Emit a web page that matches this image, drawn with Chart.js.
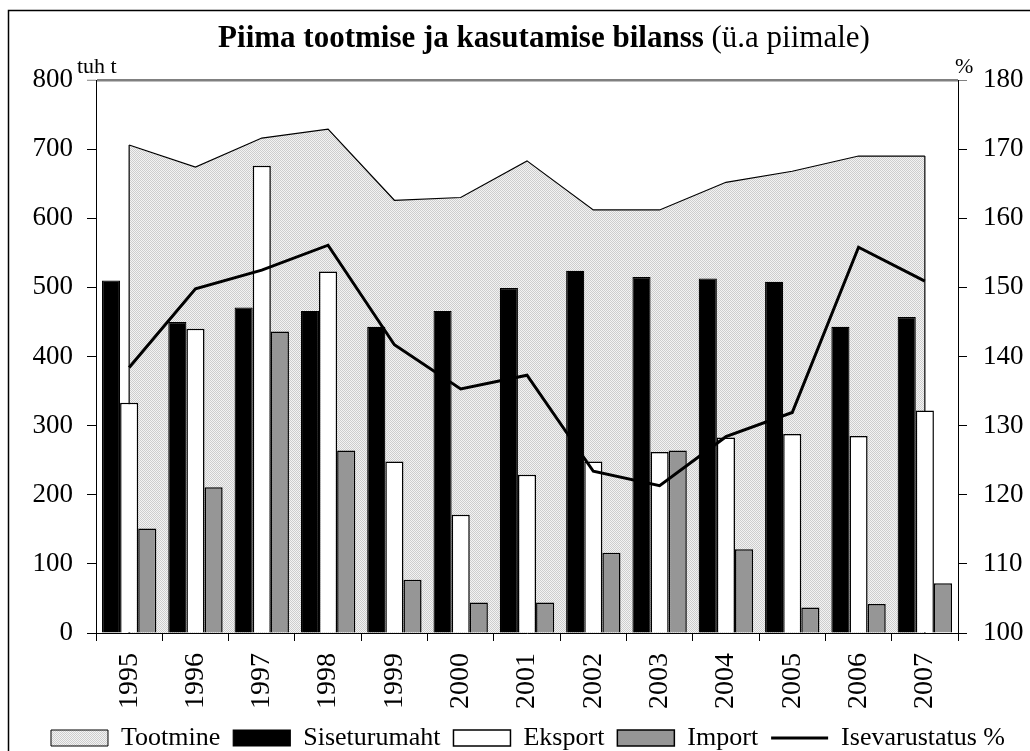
<!DOCTYPE html>
<html>
<head>
<meta charset="utf-8">
<script src="https://cdn.jsdelivr.net/npm/chart.js@4.4.1/dist/chart.umd.min.js"></script>
<style>
    html, body { margin: 0; padding: 0; background: #fff; overflow: hidden; width: 1030px; height: 751px; }
</style>
</head>
<body>
<canvas id="graafik" width="1030" height="761"></canvas>
<script>
// andmed (tuh t ja %)
const aastad = ['1995', '1996', '1997', '1998', '1999', '2000', '2001', '2002', '2003', '2004', '2005', '2006', '2007'];
const tootmine = [706, 674, 716, 729, 626, 630, 683, 612, 612, 652, 668, 690, 690];
const siseturumaht = [510, 450, 471, 466, 443, 466, 499, 524, 515, 513, 508, 443, 457];
const eksport = [333, 440, 676, 523, 248, 171, 229, 248, 262, 283, 288, 285, 322];
const importKogus = [151, 211, 436, 264, 77, 44, 44, 116, 264, 121, 37, 42, 72];
const isevarustatus = [138.4, 149.8, 152.5, 156.1, 141.7, 135.3, 137.3, 123.4, 121.3, 128.4, 131.9, 155.8, 150.9];

const vasakTelg = [0, 800, 100];   // min, max, samm
const paremTelg = [100, 180, 10];

const pealkiri = 'Piima tootmise ja kasutamise bilanss';
const alapealkiri = ' (ü.a piimale)';
const font = '"Liberation Serif", "Times New Roman", serif';

const canvas = document.getElementById('graafik');
const ctx = canvas.getContext('2d');

// täpiline hall taust tootmise alale
const mustriLoend = document.createElement('canvas');
mustriLoend.width = 2;
mustriLoend.height = 2;
const m = mustriLoend.getContext('2d');
m.fillStyle = '#f3f3f3';
m.fillRect(0, 0, 2, 2);
m.fillStyle = '#cdcdcd';
m.fillRect(0, 0, 1, 1);
m.fillRect(1, 1, 1, 1);
const muster = ctx.createPattern(mustriLoend, 'repeat');

Chart.defaults.font.family = font;
Chart.defaults.color = '#000';

const pealkiriPlugin = {
    id: 'pealkiri',
    afterDraw(chart) {
        const c = chart.ctx;
        c.save();
        c.fillStyle = '#000';
        c.textBaseline = 'alphabetic';
        c.font = 'bold 31px ' + font;
        const w1 = c.measureText(pealkiri).width;
        c.font = '31px ' + font;
        const w2 = c.measureText(alapealkiri).width;
        const x0 = 544 - (w1 + w2) / 2;
        c.font = 'bold 31px ' + font;
        c.fillText(pealkiri, x0, 47);
        c.font = '31px ' + font;
        c.fillText(alapealkiri, x0 + w1, 47);

        c.font = '22px ' + font;
        c.fillText('tuh t', 77, 73);
        c.fillText('%', 955, 73);

        c.strokeStyle = '#000';
        c.lineWidth = 1.5;
        c.strokeRect(8.5, 10.5, 1040, 800);
        c.restore();
    },
    afterDatasetDraw(chart, args) {
        // tootmise ala püstised servad
        if (args.index !== 0) return;
        const pts = args.meta.data;
        const y0 = chart.scales.y.getPixelForValue(0);
        const c = chart.ctx;
        c.save();
        c.strokeStyle = '#000';
        c.lineWidth = 1.2;
        [pts[0], pts[pts.length - 1]].forEach((p) => {
            c.beginPath();
            c.moveTo(p.x, p.y);
            c.lineTo(p.x, y0);
            c.stroke();
        });
        c.restore();
    }
};

const ylemineJoon = (val, top) => (val === top ? '#808080' : '#000');

new Chart(ctx, {
    type: 'bar',
    data: {
        labels: aastad,
        datasets: [
            {
                type: 'line',
                label: 'Tootmine',
                data: tootmine,
                yAxisID: 'y',
                order: 3,
                fill: 'origin',
                backgroundColor: muster,
                borderColor: '#000',
                borderWidth: 1.2,
                tension: 0,
                pointRadius: 0,
                pointStyle: 'rect',
                pointBackgroundColor: muster,
                pointBorderColor: '#000',
                pointBorderWidth: 1
            },
            {
                label: 'Siseturumaht',
                data: siseturumaht,
                yAxisID: 'y',
                order: 2,
                backgroundColor: '#000',
                borderColor: '#000',
                borderWidth: 1.2,
                pointStyle: 'rect'
            },
            {
                label: 'Eksport',
                data: eksport,
                yAxisID: 'y',
                order: 2,
                backgroundColor: '#fff',
                borderColor: '#000',
                borderWidth: 1.5,
                pointStyle: 'rect'
            },
            {
                label: 'Import',
                data: importKogus,
                yAxisID: 'y',
                order: 2,
                backgroundColor: '#969696',
                borderColor: '#000',
                borderWidth: 1.5,
                pointStyle: 'rect'
            },
            {
                type: 'line',
                label: 'Isevarustatus %',
                data: isevarustatus,
                yAxisID: 'y1',
                order: 1,
                fill: false,
                borderColor: '#000',
                backgroundColor: '#000',
                borderWidth: 3,
                tension: 0,
                pointRadius: 0,
                pointStyle: 'line',
                pointBorderColor: '#000',
                pointBorderWidth: 3
            }
        ]
    },
    options: {
        responsive: false,
        animation: false,
        devicePixelRatio: 1,
        layout: { padding: { left: 26, right: 0, top: 80, bottom: 0 } },
        datasets: {
            bar: { categoryPercentage: 0.82, barPercentage: 1 }
        },
        plugins: {
            title: { display: false },
            tooltip: { enabled: false },
            legend: {
                position: 'bottom',
                labels: {
                    usePointStyle: true,
                    pointStyleWidth: 57,
                    boxHeight: 16,
                    padding: 13,
                    color: '#000',
                    font: { size: 26 },
                    sort: (a, b) => a.datasetIndex - b.datasetIndex
                }
            }
        },
        scales: {
            x: {
                offset: true,
                grid: { offset: true, drawOnChartArea: false, tickLength: 8, color: '#000' },
                border: { color: '#000', width: 1 },
                ticks: { minRotation: 90, maxRotation: 90, padding: 12, font: { size: 28 }, color: '#000' },
                afterFit(scale) { scale.height = 79; }
            },
            y: {
                position: 'left',
                min: vasakTelg[0],
                max: vasakTelg[1],
                grid: {
                    drawOnChartArea: true,
                    tickLength: 9,
                    color: (c) => (c.tick && c.tick.value === vasakTelg[1] ? '#808080' : 'transparent'),
                    tickColor: (c) => ylemineJoon(c.tick && c.tick.value, vasakTelg[1]),
                    lineWidth: (c) => (c.tick && c.tick.value === vasakTelg[1] ? 2.5 : 1),
                    tickWidth: 1
                },
                border: { color: '#000', width: 1 },
                ticks: { stepSize: vasakTelg[2], padding: 14, font: { size: 27 }, color: '#000' },
                afterFit(scale) { scale.width = 70; }
            },
            y1: {
                position: 'right',
                min: paremTelg[0],
                max: paremTelg[1],
                grid: {
                    drawOnChartArea: false,
                    tickLength: 9,
                    tickColor: (c) => ylemineJoon(c.tick && c.tick.value, paremTelg[1])
                },
                border: { color: '#000', width: 1 },
                ticks: { stepSize: paremTelg[2], padding: 16, font: { size: 27 }, color: '#000' },
                afterFit(scale) { scale.width = 72; }
            }
        }
    },
    plugins: [pealkiriPlugin]
});
</script>
</body>
</html>
